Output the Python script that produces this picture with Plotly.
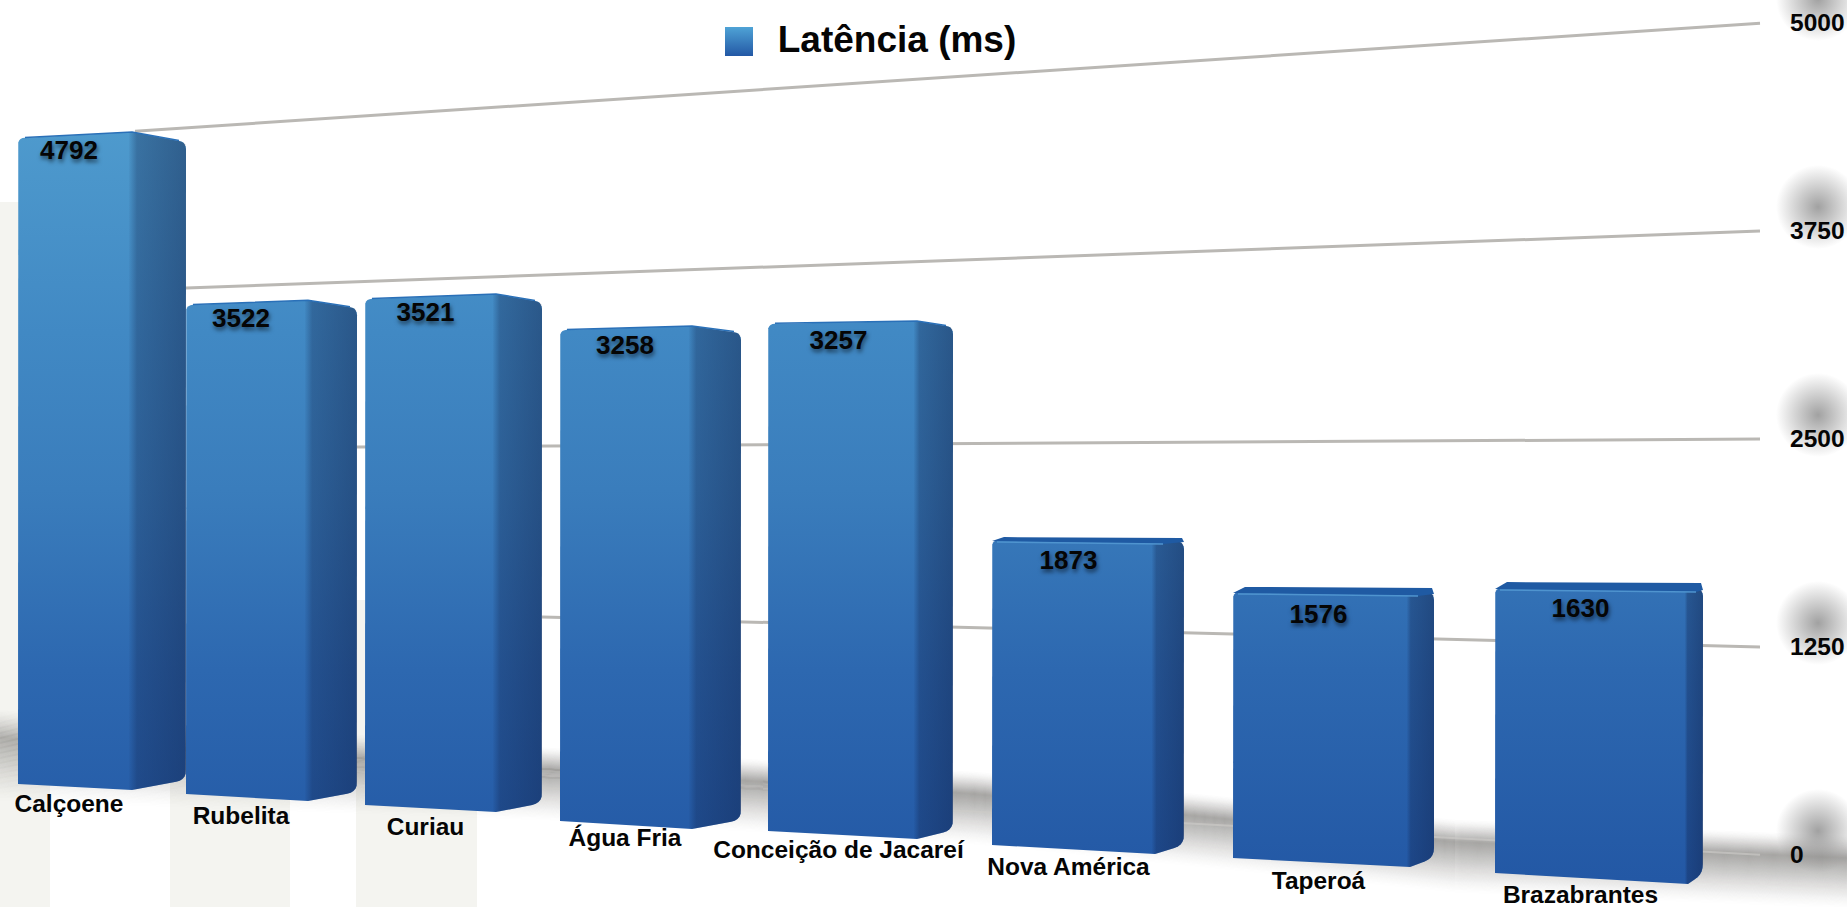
import plotly.graph_objects as go

# ---------- chart data ----------
categories = ["Calçoene", "Rubelita", "Curiau", "Água Fria", "Conceição de Jacareí",
              "Nova América", "Taperoá", "Brazabrantes"]
latency_ms = [4792, 3522, 3521, 3258, 3257, 1873, 1576, 1630]
axis_ticks = [0, 1250, 2500, 3750, 5000]
series_name = "Latência (ms)"

# ---------- perspective projection (page-pixel scene, one depth step per bar) ----------
W, H = 1847, 907
FRONT_LEFT = [18, 186, 365, 560, 768, 992, 1233, 1495]
FRONT_RIGHT = [132, 308, 496, 692, 917, 1155, 1410, 1688]
SIDE_RIGHT = [186, 357, 542, 741, 953, 1184, 1434, 1703]
BASE_Y = [784, 794, 805, 821, 831, 845, 858, 873]
UNIT_PX = [0.1348, 0.1388, 0.1437, 0.1507, 0.1557, 0.1628, 0.1688, 0.1748]
APEX_RISE = [6, 5, 5, 4, 3, 3, 3, 3]
SIDE_DROP = [4, 3, 3, 3, 3, 2, 1, 1]
BASE_DROP = [6, 7, 7, 8, 8, 9, 9, 11]
SIDE_BASE_RISE = [10, 9, 9, 9, 9, 9, 9, 10]
CAP = [0, 0, 0, 0, 0, 5, 7, 8]
GRID_START = {0: 480, 1250: 542, 2500: 357, 3750: 186, 5000: 135}
GRID_END = 1760
LABEL_SHIFT = [-6, -6, -5, -1, -4, -5, -3, -11]
VALUE_DROP = [14, 15, 15.5, 17.5, 19, 22.4, 24.7, 22.4]
CATEGORY_DROP = [22, 23.5, 23.5, 19, 21, 23.5, 25, 23.5]


def project(i, v):
    return BASE_Y[i] - UNIT_PX[i] * v


def grid_y(v, x):
    return 855 - v * 0.1664 + (0.055 - v * 2.43e-5) * (x - 1763)


def corner(p0, p1, p2, r=7, n=5):
    def toward(a, b, d):
        L = ((b[0] - a[0]) ** 2 + (b[1] - a[1]) ** 2) ** 0.5
        return (a[0] + (b[0] - a[0]) * d / L, a[1] + (b[1] - a[1]) * d / L)
    a, c = toward(p1, p0, r), toward(p1, p2, r)
    out = []
    for k in range(n + 1):
        t = k / n
        out.append(((1 - t) ** 2 * a[0] + 2 * t * (1 - t) * p1[0] + t * t * c[0],
                    (1 - t) ** 2 * a[1] + 2 * t * (1 - t) * p1[1] + t * t * c[1]))
    return out


def poly(pts, **kw):
    xs = [p[0] for p in pts] + [pts[0][0]]
    ys = [p[1] for p in pts] + [pts[0][1]]
    return go.Scatter(x=xs, y=ys, mode="lines", fill="toself", line=dict(width=0),
                      hoverinfo="skip", showlegend=False, **kw)


def text(x, y, s, size, shadow="none", name=None, pos="middle center"):
    return go.Scatter(x=x, y=y, text=s, mode="text", textposition=pos,
                      textfont=dict(family="Liberation Sans", size=size, color="#050505",
                                    weight="bold", shadow=shadow),
                      hoverinfo="skip", showlegend=False, name=name)


FRONT_SCALE = [[0, "#4e9acd"], [0.27, "#4189c4"], [0.48, "#3a7dbc"], [0.72, "#2d68b0"], [1, "#2358a5"]]
fig = go.Figure()

# pale backdrop columns
for x0, x1, y0 in [(0, 50, 202), (170, 290, 600), (356, 477, 600)]:
    fig.add_trace(poly([(x0, y0), (x1, y0), (x1, H), (x0, H)], fillcolor="#f4f4f0"))

# gridlines above zero
for t in axis_ticks[1:]:
    x0 = GRID_START[t]
    fig.add_trace(go.Scatter(x=[x0, GRID_END], y=[grid_y(t, x0), grid_y(t, GRID_END)], mode="lines",
                             line=dict(color="#bab8b4", width=3), hoverinfo="skip", showlegend=False))

# floor shadow band (soft, drawn as thin overlapping strokes)
for d in range(-30, 44):
    if d < -8:
        a = (d + 31) / 23
    else:
        a = (44 - d) / 52
    fig.add_trace(go.Scatter(x=[0, 550, 975, 1455, 1847],
                             y=[748 + d * 1.25, 778 + d, 802 + d, 850 + d, 866 + d], mode="lines",
                             line=dict(color=f"rgba(110,108,105,{0.38 * a ** 1.5:.3f})", width=2),
                             hoverinfo="skip", showlegend=False))

# zero gridline, pale inside the shadow
fig.add_trace(go.Scatter(x=[GRID_START[0], GRID_END], y=[grid_y(0, GRID_START[0]), grid_y(0, GRID_END)], mode="lines",
                         line=dict(color="rgba(205,203,200,0.65)", width=2), hoverinfo="skip", showlegend=False))

# bars
for i, v in enumerate(latency_ms):
    L, S, R = FRONT_LEFT[i], FRONT_RIGHT[i], SIDE_RIGHT[i]
    top = project(i, v)
    b = BASE_Y[i]
    apex = (S, top - APEX_RISE[i] + CAP[i] * 0.2)
    tl, tr = (L, top), (R, top + SIDE_DROP[i])
    bs, br = (S, b + BASE_DROP[i]), (R, b + BASE_DROP[i] - SIDE_BASE_RISE[i])
    grad = dict(type="vertical", colorscale=FRONT_SCALE, start=130, stop=880)
    # whole silhouette
    fig.add_trace(poly([(L, b)] + corner((L, b), tl, apex) + [apex] + corner(apex, tr, br) +
                       corner(tr, br, bs, r=10) + [bs], fillgradient=grad))
    # shaded side face
    side = dict(type="horizontal",
                colorscale=[[0, "rgba(15,30,70,0.03)"], [0.14, "rgba(15,30,70,0.32)"], [1, "rgba(15,30,70,0.47)"]],
                start=S - 3, stop=R)
    fig.add_trace(poly([(S - 3, apex[1] + 0.5), apex] + corner(apex, tr, br) + corner(tr, br, bs, r=10) +
                       [bs, (S - 3, bs[1] - 0.5)], fillgradient=side))
    # top cap on the shallow bars
    if CAP[i]:
        c = CAP[i]
        fig.add_trace(poly([(L, top + 1), (L + 12, top - c + 2), (R - 2, top - c + 3), (R, top + 2),
                            (S + 8, top + 4), (L + 4, top + 1)], fillcolor="#1f5aa3"))
        fig.add_trace(go.Scatter(x=[L + 5, S + 8], y=[top + 2, top + 4], mode="lines",
                                 line=dict(color="#4f94cf", width=1.5), hoverinfo="skip", showlegend=False))
    else:
        fig.add_trace(go.Scatter(x=[L + 7, S, R - 7], y=[top - 0.6, apex[1], top + SIDE_DROP[i] - 1.5], mode="lines",
                                 line=dict(color="#2a70b8", width=1.5), hoverinfo="skip", showlegend=False))

# value labels and category labels
label_x = [(FRONT_LEFT[i] + FRONT_RIGHT[i]) / 2 + LABEL_SHIFT[i] for i in range(len(categories))]
fig.add_trace(text(label_x, [project(i, v) + VALUE_DROP[i] for i, v in enumerate(latency_ms)],
                   [str(v) for v in latency_ms], 26, "1px 3px 4px rgba(0,0,0,0.55)", "values"))
fig.add_trace(text(label_x, [BASE_Y[i] + CATEGORY_DROP[i] for i in range(len(categories))], categories, 24.5, "none", "categories"))

# grey glow behind the value axis labels, then the labels
fig.add_trace(go.Scatter(x=[1818] * len(axis_ticks), y=[grid_y(t, 1763) - 24 for t in axis_ticks], mode="markers",
                         marker=dict(size=84, color="rgba(130,130,130,0)", line=dict(width=0),
                                     gradient=dict(type="radial", color="rgba(130,130,130,0.75)")),
                         hoverinfo="skip", showlegend=False))
fig.add_trace(text([1790] * len(axis_ticks), [grid_y(t, 1763) + 1.5 for t in axis_ticks],
                   [str(t) for t in axis_ticks], 24.5, "none", "axis", "middle right"))

# legend
fig.add_trace(poly([(725, 27), (753, 27), (753, 56), (725, 56)],
                   fillgradient=dict(type="vertical", colorscale=[[0, "#4fa3d6"], [1, "#2358a5"]], start=27, stop=56)))
fig.add_trace(text([897], [43], [series_name], 37, "none", "legend"))

fig.update_layout(width=W, height=H, margin=dict(l=0, r=0, t=0, b=0), paper_bgcolor="white",
                  plot_bgcolor="white", showlegend=False,
                  xaxis=dict(range=[0, W], visible=False, fixedrange=True),
                  yaxis=dict(range=[H, 0], visible=False, fixedrange=True))
fig.write_html("out.html", config=dict(displayModeBar=False),
               post_script="document.body.style.margin='0';document.body.style.overflow='hidden';")
